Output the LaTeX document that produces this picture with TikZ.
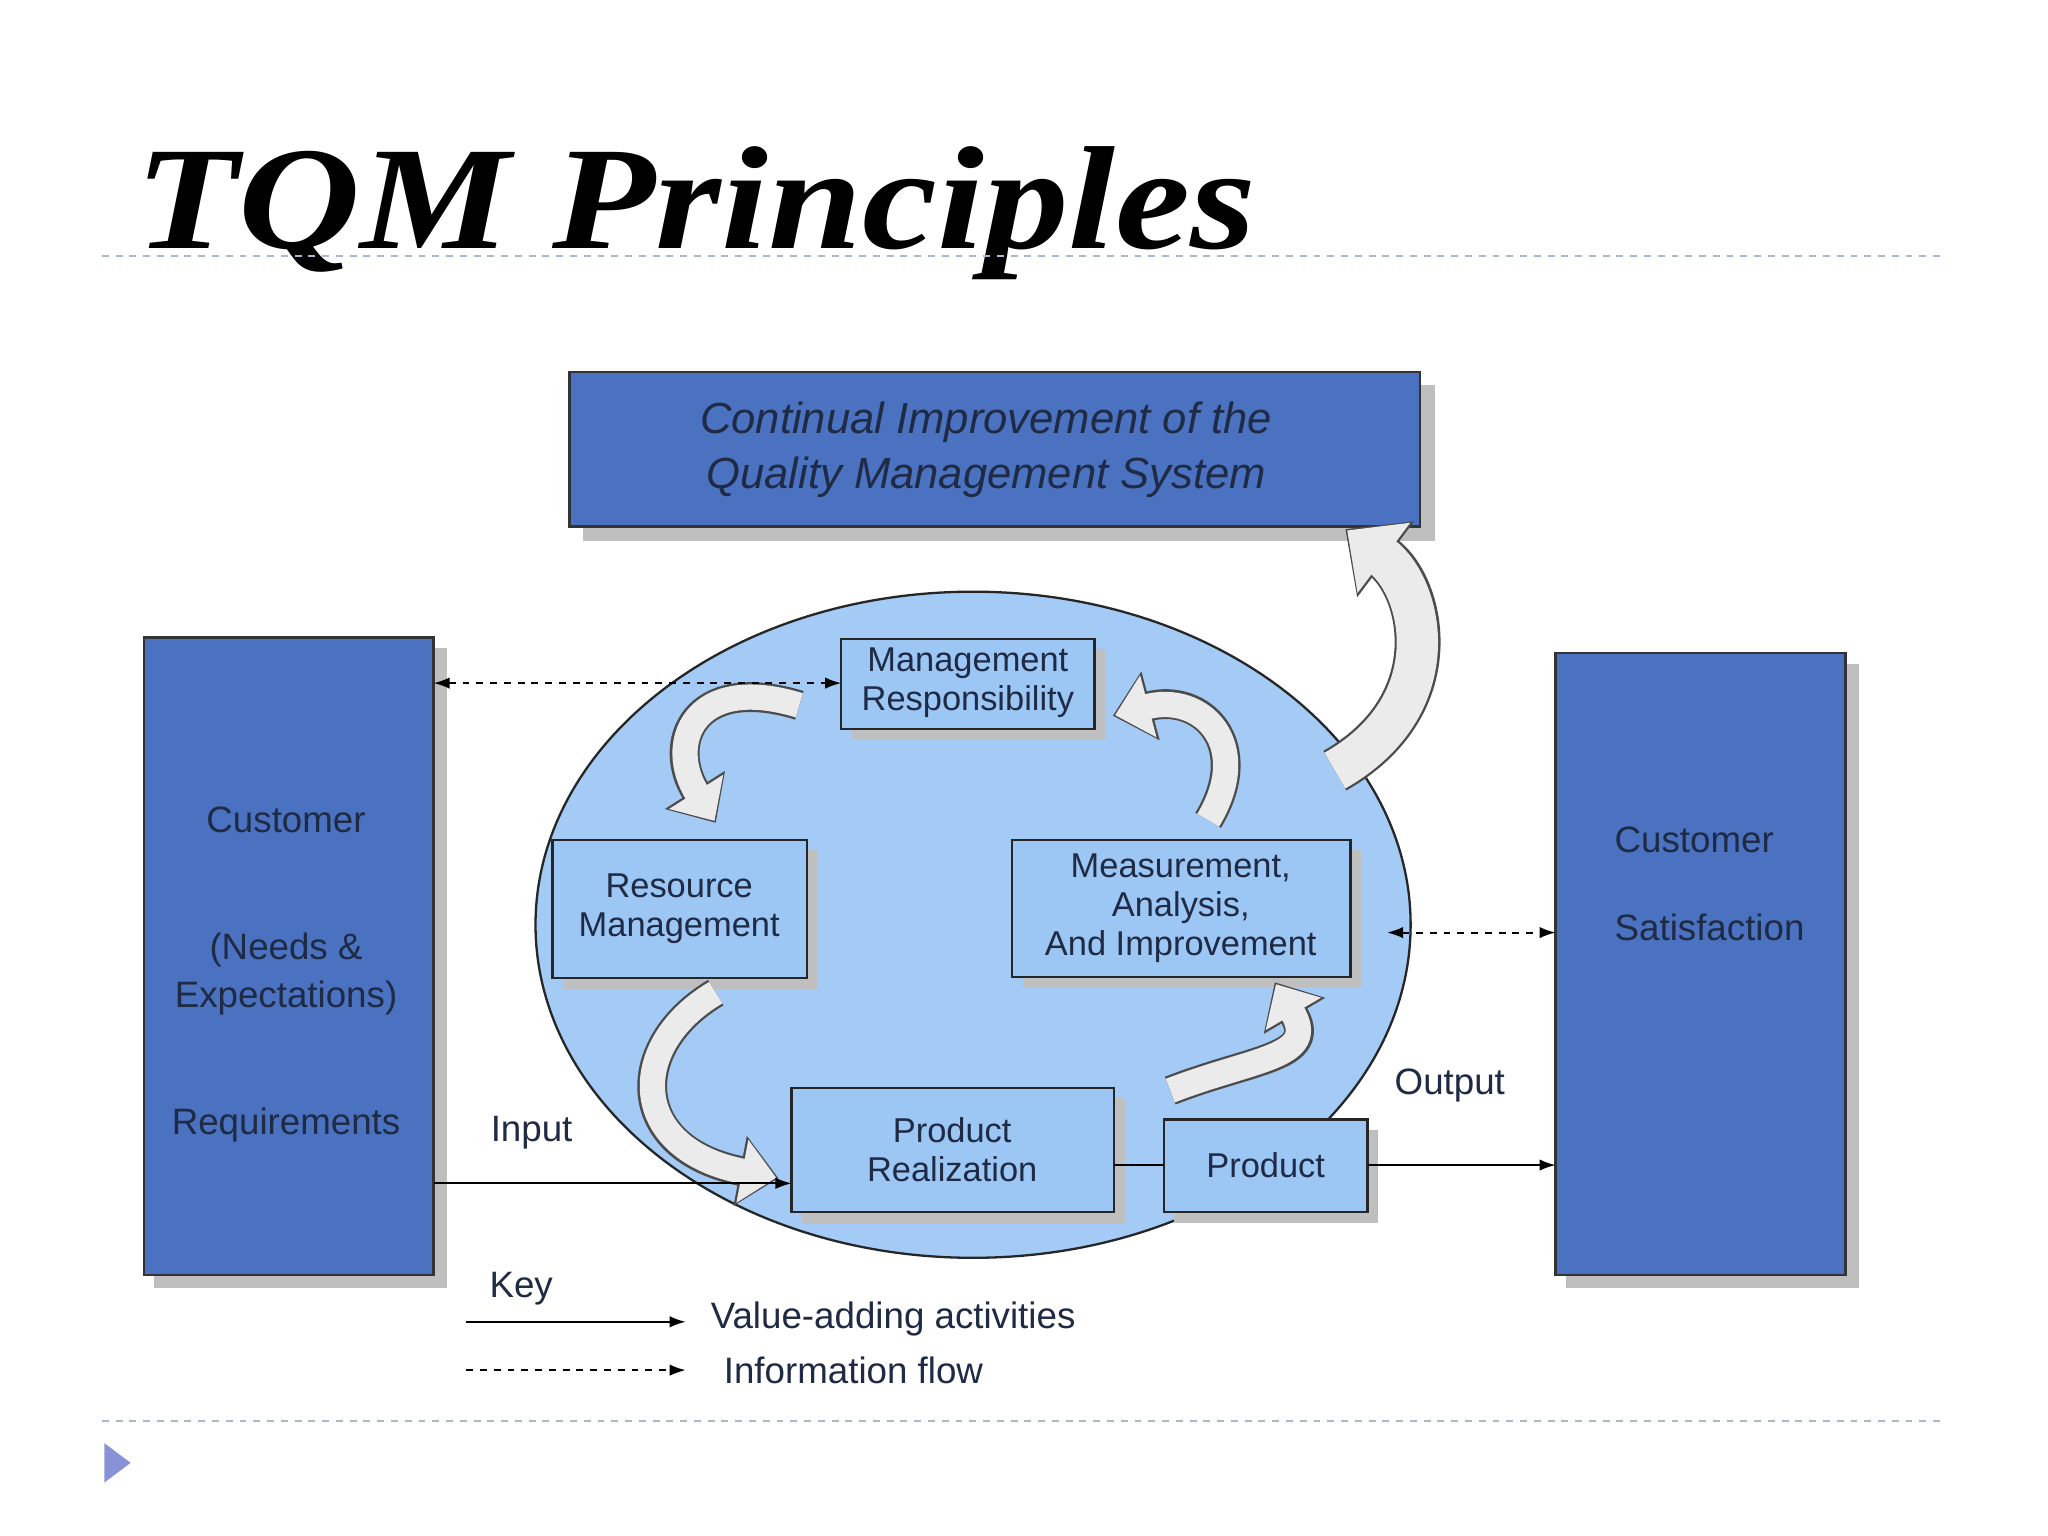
\documentclass[tikz,border=0pt]{standalone}
\usepackage{fontspec}
\setmainfont{Liberation Sans}
\newfontfamily\titlefont{Liberation Serif}
\usetikzlibrary{arrows.meta}
\definecolor{dblue}{HTML}{4A72C0}
\definecolor{lblue}{HTML}{9CC6F4}
\definecolor{ell}{HTML}{A3CBF5}
\definecolor{txt}{HTML}{1F2A44}
\definecolor{sep}{HTML}{A9B8CC}
\begin{document}
\begin{tikzpicture}[x=0.02cm,y=-0.02cm,
  shadow/.style={fill=black!25,draw=none},
  big/.style={draw=black!80,line width=1pt,fill=dblue},
  small/.style={draw=black!85,line width=1pt,fill=lblue},
  btxt/.style={text=txt,font=\fontsize{16}{19}\selectfont,align=center},
  stxt/.style={text=txt,font=\fontsize{15}{17}\selectfont,align=center,inner sep=0},
  arr/.style={-{Latex[length=7pt,width=5pt]},line width=0.8pt},
  darr/.style={{Latex[length=7pt,width=5pt]}-{Latex[length=7pt,width=5pt]},dashed,line width=0.8pt},
  barO/.style={line width=13pt,draw=black!70,-{Triangle[width=30pt,length=17pt]}},
  barI/.style={line width=11pt,draw=black!8,-{Triangle[width=27pt,length=15pt]},shorten >=1pt},
  bigO/.style={line width=20pt,draw=black!70,-{Triangle[width=40pt,length=22pt]}},
  bigI/.style={line width=18pt,draw=black!8,-{Triangle[width=37pt,length=20pt]},shorten >=1pt}]
\useasboundingbox (0,0) rectangle (1568,1176);
\fill[white] (0,0) rectangle (1568,1176);
% title
\node[anchor=base west,xscale=1.15,font=\titlefont\fontsize{64}{70}\selectfont\bfseries\itshape,inner sep=0] (title) at (103,190) {TQM Principles};
\draw[sep,dashed,line width=0.8pt] (78,196) -- (1490,196);
\draw[sep,dashed,line width=0.8pt] (78,1088) -- (1490,1088);
\fill[sep!80!blue] (80,1105) -- (80,1135) -- (100,1120) -- cycle;
% top box
\fill[shadow] (446,295) rectangle (1099,414);
\draw[big] (436,285) rectangle (1087,403);
\node[text=txt,font=\fontsize{19}{24}\selectfont\itshape,align=center] (ci) at (755,344) {Continual Improvement of the\\Quality Management System};
% side boxes
\fill[shadow] (118,496) rectangle (342,986);
\draw[big] (110,488) rectangle (332,976);
\node[btxt] (c1) at (219,628) {Customer};
\node[btxt] (c2) at (219,746) {(Needs \&\\[2pt]Expectations)};
\node[btxt] (c3) at (219,861) {Requirements};
\fill[shadow] (1199,508) rectangle (1423,986);
\draw[big] (1191,500) rectangle (1413,976);
\node[btxt,anchor=west] (s1) at (1230,643) {Customer};
\node[btxt,anchor=west] (s2) at (1230,710) {Satisfaction};
% ellipse
\draw[fill=ell,draw=black!85,line width=1pt] (745,708) ellipse [x radius=335,y radius=255];
% small boxes
\fill[shadow] (652,497) rectangle (846,566);
\draw[small] (644,489) rectangle (838,558);
\node[stxt] (mr) at (741,523) {Management\\Responsibility};
\fill[shadow] (431,651) rectangle (626,757);
\draw[small] (423,643) rectangle (618,749);
\node[stxt] (rm) at (520,696) {Resource\\Management};
\fill[shadow] (783,651) rectangle (1042,756);
\draw[small] (775,643) rectangle (1034,748);
\node[stxt] (ma) at (904,695) {Measurement,\\Analysis,\\And Improvement};
\fill[shadow] (614,841) rectangle (861,936);
\draw[small] (606,833) rectangle (853,928);
\node[stxt] (pr) at (729,880) {Product\\Realization};
\fill[shadow] (899,865) rectangle (1055,936);
\draw[small] (891,857) rectangle (1047,928);
\node[stxt] (p) at (969,892) {Product};
% block arrows
\newcommand\barw[1]{\draw[barO] #1; \draw[barI] #1;}
\barw{(612,540) .. controls (530,515) and (510,570) .. (548,630)}
\barw{(548,760) .. controls (480,800) and (480,880) .. (596,902)}
\barw{(896,835) .. controls (960,810) and (1010,810) .. (976,752)}
\barw{(925,628) .. controls (960,570) and (920,530) .. (852,548)}
\draw[bigO] (1022,590) .. controls (1110,540) and (1090,450) .. (1030,405);
\draw[bigI] (1022,590) .. controls (1110,540) and (1090,450) .. (1030,405);
% connectors
\draw[arr] (332,906) -- (606,906);
\draw[line width=0.8pt] (853,892) -- (891,892);
\draw[arr] (1047,892) -- (1191,892);
\draw[darr] (332,523) -- (644,523);
\draw[darr] (1062,714) -- (1191,714);
\node[btxt] (in) at (407,867) {Input};
\node[btxt] (out) at (1110,831) {Output};
% key
\node[btxt] (key) at (399,987) {Key};
\draw[arr] (357,1012) -- (525,1012);
\node[btxt,anchor=west] (k1) at (538,1010) {Value-adding activities};
\draw[arr,dashed] (357,1049) -- (525,1049);
\node[btxt,anchor=west] (k2) at (548,1049) {Information flow};
\end{tikzpicture}
\end{document}
